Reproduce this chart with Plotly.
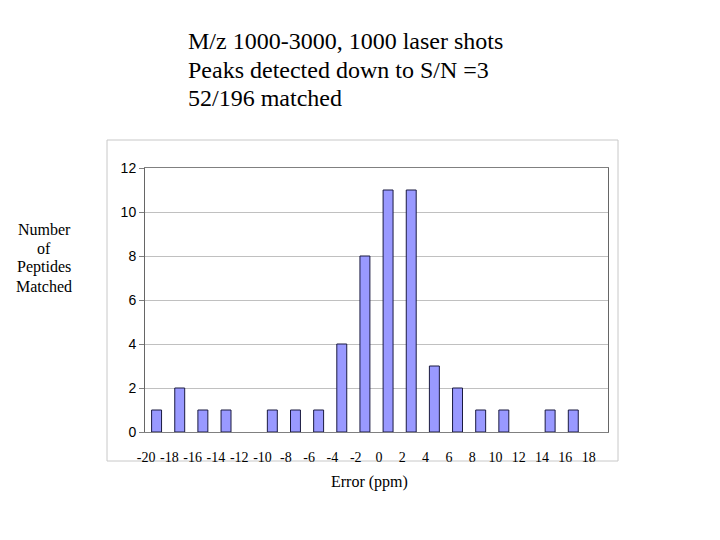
import plotly.graph_objects as go

error_ppm = [-20, -18, -16, -14, -12, -10, -8, -6, -4, -2, 0, 2, 4, 6, 8, 10, 12, 14, 16, 18]
peptides_matched = [1, 2, 1, 1, 0, 1, 1, 1, 4, 8, 11, 11, 3, 2, 1, 1, 0, 1, 1, 0]
tick_labels = [str(v) for v in error_ppm]
y_ticks = [0, 2, 4, 6, 8, 10, 12]

title_lines = ["M/z 1000-3000, 1000 laser shots",
               "Peaks detected down to S/N =3",
               "52/196 matched"]
ylabel_lines = ["Number", "of", "Peptides", "Matched"]

serif = "Liberation Serif, Times New Roman, serif"
sans = "Liberation Sans, Arial, sans-serif"

# page is rendered with an 8px body margin; positions below are page pixels
def px(x):
    return (x - 145) / 463

def py(y):
    return (432 - y) / 264

fig = go.Figure()
fig.add_trace(go.Bar(
    x=error_ppm, y=peptides_matched,
    marker=dict(color="#9999FF",
                line=dict(color="#1a1a40",
                          width=[1 if v > 0 else 0 for v in peptides_matched])),
    width=0.86,
    xaxis="x", yaxis="y",
))
# invisible helper trace so the label axis is drawn
fig.add_trace(go.Scatter(x=[error_ppm[0]], y=[0], xaxis="x2", yaxis="y",
                         mode="markers", marker=dict(opacity=0),
                         showlegend=False, hoverinfo="skip"))

fig.update_layout(
    width=720, height=540,
    margin=dict(l=137, r=120, t=160, b=116),
    paper_bgcolor="white", plot_bgcolor="white",
    showlegend=False,
    xaxis=dict(range=[-21, 19], showticklabels=False, ticks="",
               showgrid=False, zeroline=False,
               showline=True, linecolor="#808080", linewidth=1, mirror=True),
    xaxis2=dict(overlaying="x", side="bottom", anchor="y",
                range=[-20.09, 19.66], tickmode="array",
                tickvals=error_ppm, ticktext=tick_labels,
                ticks="", showgrid=False, zeroline=False, showline=False,
                tickfont=dict(family=serif, size=14, color="black"),
                ticklabelstandoff=15),
    yaxis=dict(range=[0, 12], tickmode="array", tickvals=y_ticks,
               ticks="outside", ticklen=5, tickcolor="#808080",
               showgrid=True, gridcolor="#C0C0C0", gridwidth=1,
               zeroline=False,
               showline=True, linecolor="#666666", linewidth=1, mirror=True,
               tickfont=dict(family=sans, size=14, color="black")),
)

# outer chart box
fig.add_shape(type="rect", xref="paper", yref="paper",
              x0=px(107), x1=px(618), y0=py(461), y1=py(140),
              line=dict(color="#C8C8C8", width=1), fillcolor="rgba(0,0,0,0)",
              layer="below")

for line, yc in zip(title_lines, [41, 69.5, 98]):
    fig.add_annotation(text=line, xref="paper", yref="paper",
                       x=px(186), y=py(yc), xanchor="left", yanchor="middle",
                       showarrow=False,
                       font=dict(family=serif, size=24, color="black"))

for line, yc in zip(ylabel_lines, [229, 248, 267, 286]):
    fig.add_annotation(text=line, xref="paper", yref="paper",
                       x=px(44), y=py(yc), xanchor="center", yanchor="middle",
                       showarrow=False,
                       font=dict(family=serif, size=16, color="black"))

fig.add_annotation(text="Error (ppm)", xref="paper", yref="paper",
                   x=px(369), y=py(482),
                   xanchor="center", yanchor="middle", showarrow=False,
                   font=dict(family=serif, size=16, color="black"))

fig.write_html("out.html")
